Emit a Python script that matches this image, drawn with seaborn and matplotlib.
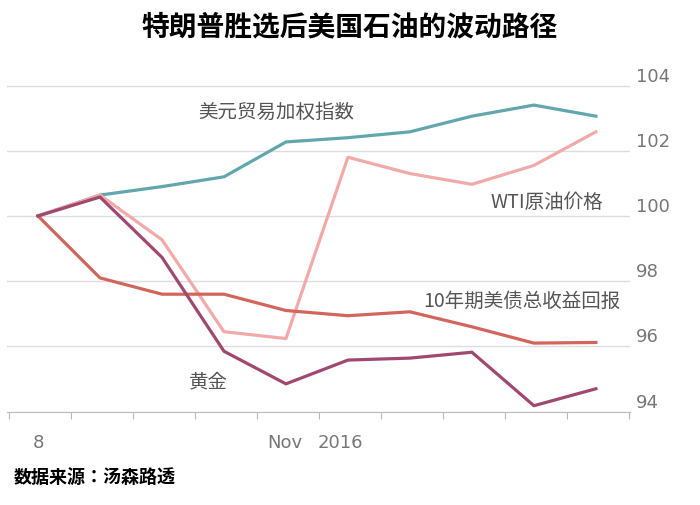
import matplotlib
matplotlib.use("Agg")
import matplotlib.pyplot as plt
from matplotlib import font_manager as fm
import seaborn as sns
import pandas as pd

cjk = None
for f in fm.findSystemFonts():
    if "CJK" in f and ("SC" in f or "Regular" in f or "ttc" in f):
        try:
            fm.fontManager.addfont(f)
        except Exception:
            pass
for name in ["Noto Sans CJK SC", "Noto Sans CJK JP", "Noto Sans CJK TC", "Noto Sans CJK KR"]:
    if any(e.name == name for e in fm.fontManager.ttflist):
        cjk = name
        break
plt.rcParams["font.family"] = [cjk or "Noto Sans CJK SC", "DejaVu Sans"]

idx = list(range(10))
usd = [100, 100.64, 100.9, 101.2, 102.27, 102.4, 102.58, 103.06, 103.4, 103.06]
wti = [100, 100.64, 99.27, 96.45, 96.24, 101.8, 101.3, 100.97, 101.55, 102.58]
bond = [100, 98.1, 97.6, 97.6, 97.1, 96.94, 97.06, 96.6, 96.1, 96.12]
gold = [100, 100.58, 98.73, 95.85, 94.85, 95.58, 95.64, 95.82, 94.18, 94.7]
names = ["美元贸易加权指数", "WTI原油价格", "10年期美债总收益回报", "黄金"]
colors = ["#62a6ae", "#f2aaa9", "#d2665c", "#a0486f"]
yticks = [94, 96, 98, 100, 102, 104]

df = pd.DataFrame({"x": idx * 4, "v": usd + wti + bond + gold,
                   "s": sum([[n] * 10 for n in names], [])})

fig = plt.figure(figsize=(7, 5.05), dpi=100)
ax = fig.add_axes([0.01, 0.185, 0.89, 0.665])
sns.lineplot(data=df, x="x", y="v", hue="s", palette=colors, legend=False,
             linewidth=2.3, ax=ax)
ax.set_xlim(-0.5, 9.55)
ax.set_ylim(94, 104.3)
ax.set_yticks(yticks)
ax.yaxis.tick_right()
ax.set_yticklabels([str(t) for t in yticks], fontsize=13, color="#777777",
                   fontfamily="DejaVu Sans", va="bottom")
ax.tick_params(axis="y", length=0, pad=4)
ax.grid(axis="y", color="#dddddd", linewidth=1)
ax.set_xticks([k - 0.47 for k in range(11)])
ax.set_xticklabels([])
ax.tick_params(axis="x", length=5, color="#bbbbbb")
for sp in ["top", "right", "left"]:
    ax.spines[sp].set_visible(False)
ax.spines["bottom"].set_color("#bbbbbb")
ax.set_xlabel(""); ax.set_ylabel("")
for lab, xv in [("8", 0), ("Nov", 3.98), ("2016", 4.87)]:
    ax.text(xv, 93.05, lab, ha="center", va="center", fontsize=13,
            color="#777777", fontfamily="DejaVu Sans")
ax.text(3.85, 103.0, names[0], fontsize=14, color="#555555", ha="center")
ax.text(8.2, 100.25, names[1], fontsize=14, color="#555555", ha="center")
ax.text(7.8, 97.2, names[2], fontsize=14, color="#555555", ha="center")
ax.text(2.75, 94.75, names[3], fontsize=14, color="#555555", ha="center")
fig.text(0.5, 0.945, "特朗普胜选后美国石油的波动路径", ha="center", va="center",
         fontsize=20, fontweight="bold")
fig.text(0.02, 0.055, "数据来源：汤森路透", ha="left", va="center", fontsize=13,
         fontweight="bold")
fig.savefig("out.png", dpi=100)
